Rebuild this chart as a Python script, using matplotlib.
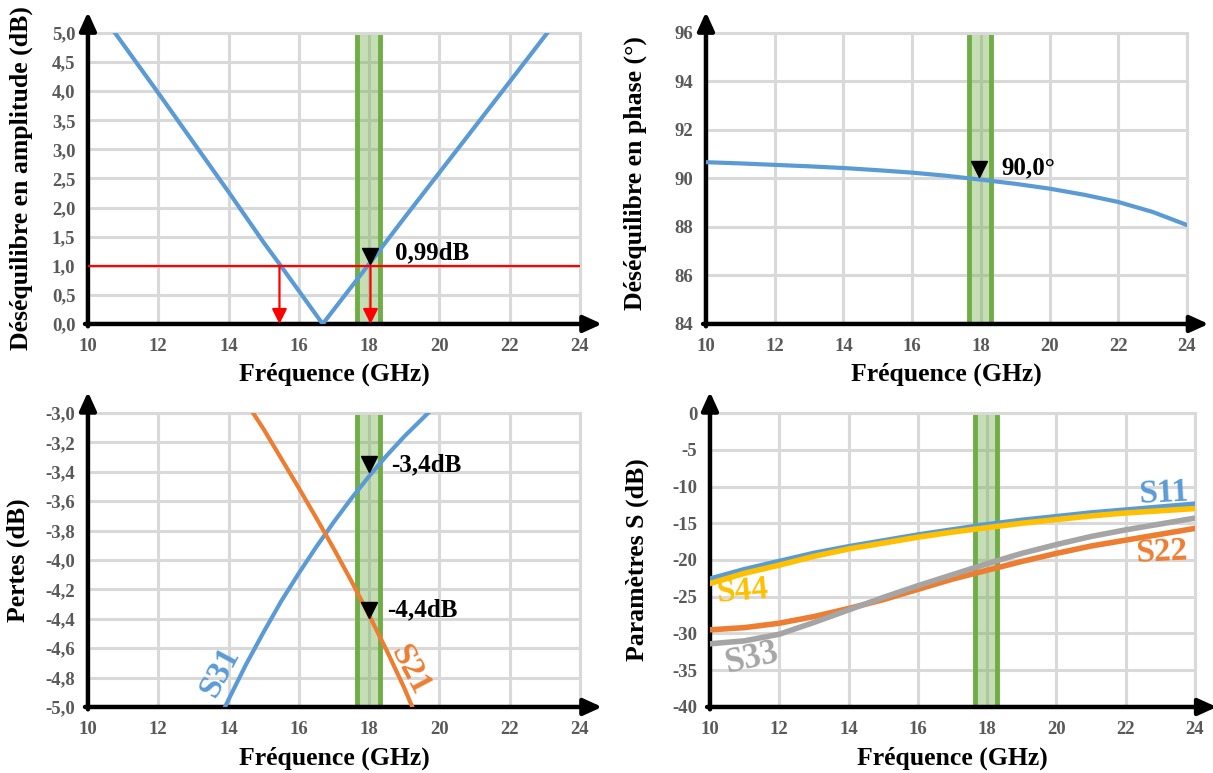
"""
Coupler measurements: amplitude / phase imbalance, losses and S-parameters.
"""
import matplotlib
matplotlib.use("Agg")
import matplotlib.pyplot as plt

plt.rcParams['font.family'] = ['Liberation Serif', 'DejaVu Serif']
plt.rcParams['font.weight'] = 'bold'

# amplitude imbalance (dB)
freq_amp = [10.77, 12, 13, 14, 15, 15.45, 16, 16.68, 17, 18, 19, 20, 21, 22, 23.07]
amp_imb = [5.0, 3.97, 3.12, 2.27, 1.40, 1.03, 0.57, 0.0, 0.25, 1.03, 1.82, 2.6, 3.38, 4.16, 5.0]
amp_limit = 1.0
amp_cross = [15.45, 18.04]

# phase imbalance (deg)
freq_phase = [10, 11, 12, 13, 14, 15, 16, 17, 18, 19, 20, 21, 22, 23, 24]
phase_imb = [90.67, 90.62, 90.56, 90.5, 90.43, 90.34, 90.24, 90.11, 89.95,
             89.78, 89.58, 89.33, 89.03, 88.62, 88.08]

# losses (dB)
freq_s31 = [13.9, 14, 14.5, 15, 15.5, 16, 16.5, 17, 17.5, 18, 18.5, 19, 19.68]
s31 = [-5.0, -4.95, -4.71, -4.49, -4.28, -4.09, -3.91, -3.74, -3.58, -3.43, -3.29, -3.16, -3.0]
freq_s21 = [14.7, 15, 15.5, 16, 16.5, 17, 17.5, 18, 18.5, 19, 19.23]
s21 = [-3.0, -3.11, -3.31, -3.51, -3.715, -3.925, -4.145, -4.375, -4.615, -4.87, -5.0]

# reflections (dB)
freq_s = [10, 11, 12, 13, 14, 15, 16, 17, 18, 19, 20, 21, 22, 23, 24]
s11 = [-22.6, -21.3, -20.2, -19.1, -18.2, -17.4, -16.6, -15.9, -15.2, -14.6, -14.1, -13.6, -13.2, -12.8, -12.4]
s44 = [-23.2, -21.8, -20.7, -19.5, -18.5, -17.7, -16.9, -16.2, -15.6, -15.0, -14.5, -14.0, -13.6, -13.3, -13.0]
s33 = [-31.4, -31.0, -30.1, -28.5, -26.8, -25.1, -23.5, -22.0, -20.5, -19.1, -17.9, -16.8, -15.9, -15.1, -14.3]
s22 = [-29.5, -29.2, -28.6, -27.7, -26.6, -25.4, -24.0, -22.6, -21.4, -20.2, -19.1, -18.1, -17.3, -16.5, -15.7]

band = (17.65, 18.3)
xticks = [10, 12, 14, 16, 18, 20, 22, 24]

BLUE = '#5B9BD5'
ORANGE = '#ED7D31'
GRAY = '#A5A5A5'
YELLOW = '#FFC000'
GREEN = '#70AD47'
GRID = '#D9D9D9'
TICK = '#595959'


def setup(ax, yticks, ylabels, ylabel, ylab_x, xlab_y, ylab_y=0.5):
    ax.set_xlim(10, 24)
    ax.set_ylim(yticks[0], yticks[-1])
    ax.set_xticks(xticks)
    ax.set_xticklabels([str(t) for t in xticks])
    ax.set_yticks(yticks)
    ax.set_yticklabels(ylabels)
    ax.tick_params(length=0, labelsize=13.5, labelcolor=TICK)
    ax.tick_params(axis='x', pad=10)
    ax.tick_params(axis='y', pad=9)
    ax.grid(True, color=GRID, lw=2.2)
    ax.set_axisbelow(True)
    for s in ['left', 'bottom']:
        ax.spines[s].set_visible(False)
    for s in ['top', 'right']:
        ax.spines[s].set_color(GRID)
        ax.spines[s].set_linewidth(2.2)
    ax.set_xlabel('Fréquence (GHz)', fontsize=18.5, fontweight='bold')
    ax.set_ylabel(ylabel, fontsize=18.5, fontweight='bold')
    ax.xaxis.set_label_coords(0.5, xlab_y)
    ax.yaxis.set_label_coords(ylab_x, ylab_y)
    # green band
    ax.axvspan(band[0], band[1], color=GREEN, alpha=0.4, lw=0, zorder=1.5)
    for b in band:
        ax.axvline(b, color=GREEN, lw=3.5, zorder=1.6)
    # black arrowed axes
    kw = dict(xycoords='axes fraction', textcoords='axes fraction',
              arrowprops=dict(arrowstyle='-|>,head_length=0.55,head_width=0.25',
                              lw=3.2, color='black', shrinkA=0, shrinkB=0,
                              mutation_scale=20))
    ax.annotate('', xy=(0, 1.072), xytext=(0, -0.008), **kw)
    ax.annotate('', xy=(1.045, 0), xytext=(-0.006, 0), **kw)


fig = plt.figure(figsize=(12.13, 7.73), dpi=100)
ax1 = fig.add_axes([0.0725, 0.5809, 0.4056, 0.3765])
ax2 = fig.add_axes([0.582, 0.5809, 0.3965, 0.3765])
ax3 = fig.add_axes([0.0725, 0.0854, 0.4056, 0.3803])
ax4 = fig.add_axes([0.5853, 0.0854, 0.3998, 0.3803])

# amplitude
amp_ticks = [0, 0.5, 1, 1.5, 2, 2.5, 3, 3.5, 4, 4.5, 5]
setup(ax1, amp_ticks, [f'{t:.1f}'.replace('.', ',') for t in amp_ticks],
      'Déséquilibre en amplitude (dB)', -0.112, -0.132)
ax1.plot(freq_amp, amp_imb, color=BLUE, lw=3, zorder=3)
ax1.axhline(amp_limit, color='red', lw=1.6, zorder=4)
for xc in amp_cross:
    ax1.annotate('', xy=(xc, 0), xytext=(xc, amp_limit),
                 arrowprops=dict(arrowstyle='-|>,head_length=0.6,head_width=0.3',
                                 color='red', lw=1.6, shrinkA=0, shrinkB=0,
                                 mutation_scale=15), zorder=4)
ax1.plot([18.02], [1.16], marker='v', color='black', ms=11, zorder=5)
ax1.text(18.75, 1.22, '0,99dB', fontsize=18, fontweight='bold', va='center')

# phase
ph_ticks = [84, 86, 88, 90, 92, 94, 96]
setup(ax2, ph_ticks, [str(t) for t in ph_ticks],
      'Déséquilibre en phase (°)', -0.123, -0.132, ylab_y=0.52)
ax2.plot(freq_phase, phase_imb, color=BLUE, lw=3, zorder=3)
ax2.plot([17.95], [90.4], marker='v', color='black', ms=11, zorder=5)
ax2.text(18.6, 90.42, '90,0°', fontsize=18, fontweight='bold', va='center')

# losses
loss_ticks = [-5.0, -4.8, -4.6, -4.4, -4.2, -4.0, -3.8, -3.6, -3.4, -3.2, -3.0]
setup(ax3, loss_ticks, [f'{t:.1f}'.replace('.', ',') for t in loss_ticks],
      'Pertes (dB)', -0.118, -0.133)
ax3.plot(freq_s31, s31, color=BLUE, lw=3, zorder=3)
ax3.plot(freq_s21, s21, color=ORANGE, lw=3, zorder=3)
ax3.plot([17.99], [-3.35], marker='v', color='black', ms=11, zorder=5)
ax3.plot([17.99], [-4.34], marker='v', color='black', ms=11, zorder=5)
ax3.text(18.64, -3.35, '-3,4dB', fontsize=18, fontweight='bold', va='center')
ax3.text(18.51, -4.34, '-4,4dB', fontsize=18, fontweight='bold', va='center')
ax3.text(13.75, -4.76, 'S31', color=BLUE, fontsize=24, fontweight='bold',
         rotation=62, ha='center', va='center')
ax3.text(19.17, -4.75, 'S21', color=ORANGE, fontsize=24, fontweight='bold',
         rotation=-62, ha='center', va='center')

# S parameters
s_ticks = [-40, -35, -30, -25, -20, -15, -10, -5, 0]
setup(ax4, s_ticks, [str(t) for t in s_ticks],
      'Paramètres S (dB)', -0.126, -0.133)
ax4.plot(freq_s, s11, color=BLUE, lw=4, zorder=3)
ax4.plot(freq_s, s44, color=YELLOW, lw=4, zorder=3)
ax4.plot(freq_s, s22, color=ORANGE, lw=4, zorder=3)
ax4.plot(freq_s, s33, color=GRAY, lw=4, zorder=3)
ax4.text(23.1, -10.9, 'S11', color=BLUE, fontsize=24, fontweight='bold',
         rotation=3, ha='center', va='center')
ax4.text(23.05, -18.9, 'S22', color=ORANGE, fontsize=24, fontweight='bold',
         rotation=3, ha='center', va='center')
ax4.text(10.95, -24.3, 'S44', color=YELLOW, fontsize=24, fontweight='bold',
         rotation=5, ha='center', va='center')
ax4.text(11.2, -33.4, 'S33', color=GRAY, fontsize=25, fontweight='bold',
         rotation=13, ha='center', va='center')

fig.savefig('out.png', dpi=100)
